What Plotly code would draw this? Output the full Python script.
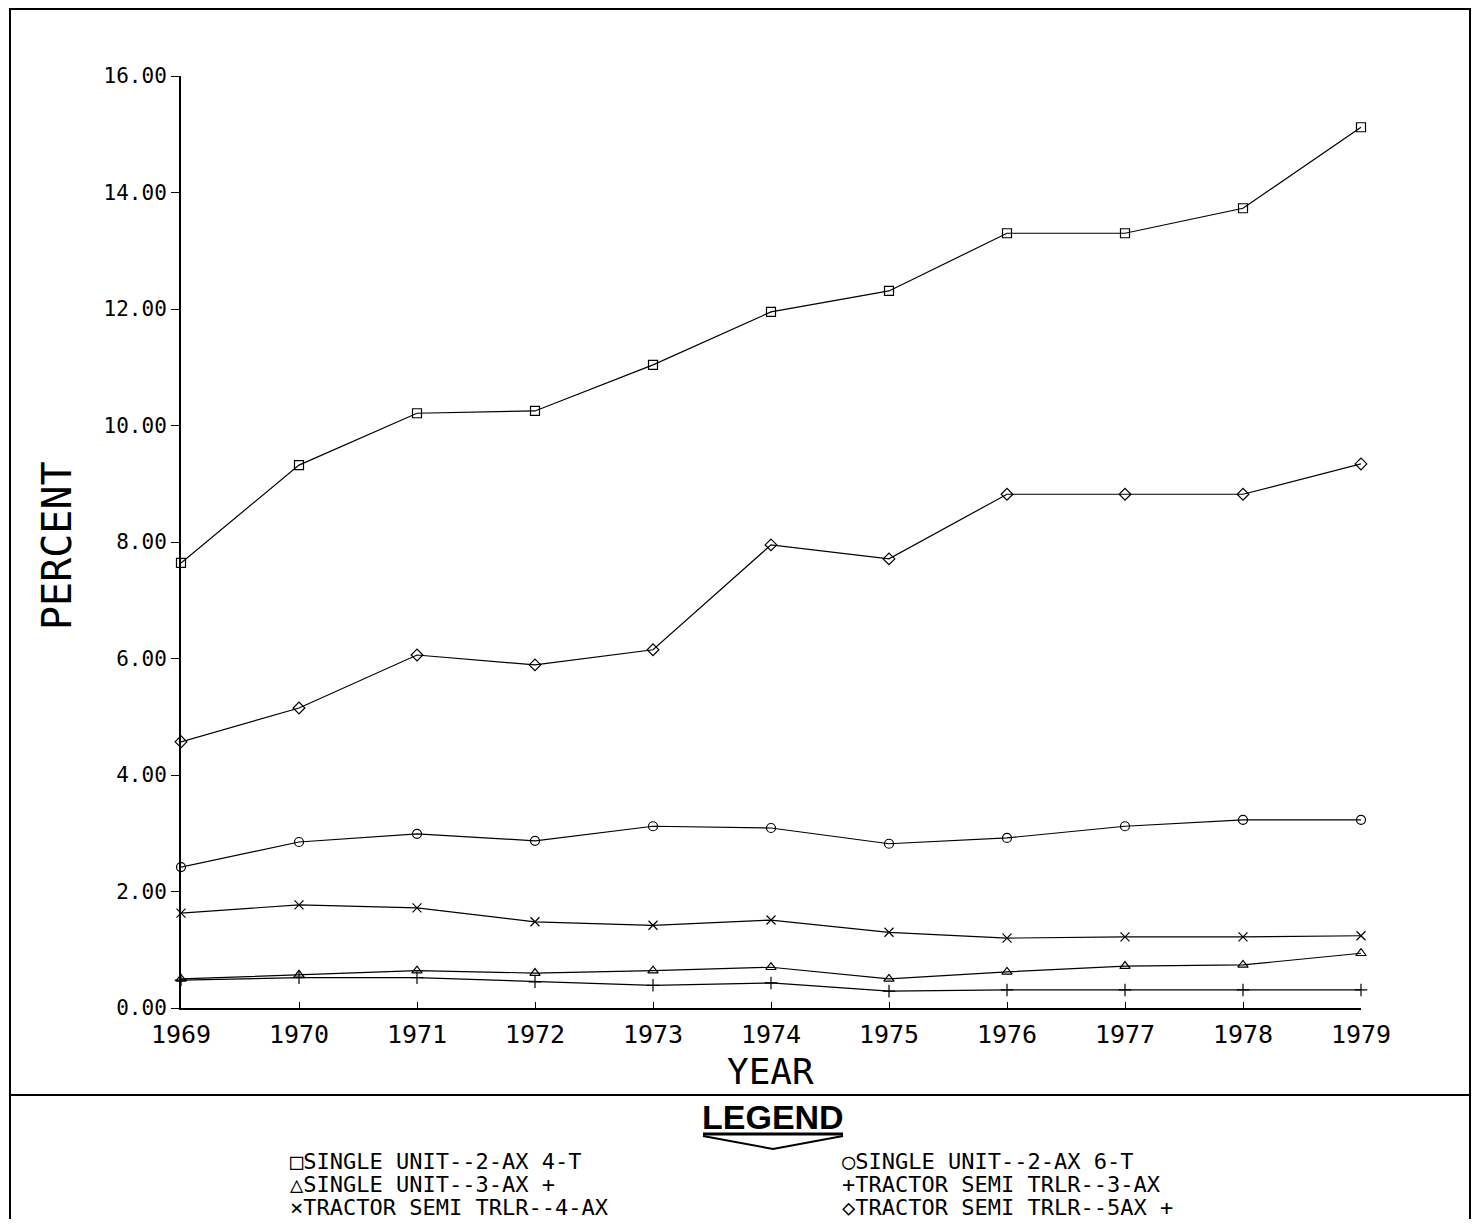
import plotly.graph_objects as go

years = [1969, 1970, 1971, 1972, 1973, 1974, 1975, 1976, 1977, 1978, 1979]
su_2ax_4t = [7.64, 9.32, 10.21, 10.25, 11.04, 11.95, 12.31, 13.30, 13.30, 13.73, 15.12]
su_2ax_6t = [2.42, 2.85, 2.99, 2.87, 3.12, 3.09, 2.82, 2.92, 3.12, 3.23, 3.23]
su_3ax = [0.50, 0.57, 0.64, 0.60, 0.64, 0.70, 0.50, 0.62, 0.72, 0.74, 0.94]
ts_3ax = [0.48, 0.52, 0.52, 0.45, 0.39, 0.43, 0.29, 0.31, 0.31, 0.31, 0.31]
ts_4ax = [1.63, 1.77, 1.72, 1.48, 1.42, 1.51, 1.30, 1.20, 1.22, 1.22, 1.24]
ts_5ax = [4.57, 5.15, 6.06, 5.89, 6.15, 7.95, 7.71, 8.82, 8.82, 8.82, 9.34]
y_ticks = [0, 2, 4, 6, 8, 10, 12, 14, 16]

series = [
    ("SINGLE UNIT--2-AX 4-T", su_2ax_4t, "square-open"),
    ("SINGLE UNIT--2-AX 6-T", su_2ax_6t, "circle-open"),
    ("SINGLE UNIT--3-AX +", su_3ax, "triangle-up-open"),
    ("TRACTOR SEMI TRLR--3-AX", ts_3ax, "cross-thin-open"),
    ("TRACTOR SEMI TRLR--4-AX", ts_4ax, "x-thin-open"),
    ("TRACTOR SEMI TRLR--5AX +", ts_5ax, "diamond-open"),
]

OFF = 8  # page body margin
W, H = 1480 - 2 * OFF, 1227 - 2 * OFF
L, R, T, B = 181, 1361, 76, 1008  # plot area in page pixels
FONT = "DejaVu Sans Mono"

def px(x):
    return (x - L) / (R - L)

def py(y):
    return (B - y) / (B - T)

fig = go.Figure()
for name, vals, sym in series:
    fig.add_trace(go.Scatter(
        x=years, y=vals, mode="lines+markers", name=name,
        line=dict(color="black", width=1.2),
        marker=dict(symbol=sym, size=9, color="black", line=dict(color="black", width=1.2)),
        showlegend=False, cliponaxis=False,
    ))

fig.update_layout(
    width=W, height=H,
    margin=dict(l=L - OFF, r=W - (R - OFF), t=T - OFF, b=H - (B - OFF)),
    paper_bgcolor="white", plot_bgcolor="white",
    font=dict(family=FONT, color="black"),
    xaxis=dict(
        range=[1969, 1979], tickmode="array", tickvals=years,
        ticktext=[str(y) for y in years],
        showgrid=False, zeroline=False, showline=True, linecolor="black", linewidth=2,
        ticks="inside", ticklen=6, tickcolor="black",
        tickfont=dict(family=FONT, size=25), ticklabelstandoff=3,
    ),
    yaxis=dict(
        range=[0, 16], tickmode="array", tickvals=y_ticks,
        ticktext=["%.2f" % v for v in y_ticks],
        showgrid=False, zeroline=False, showline=True, linecolor="black", linewidth=2,
        ticks="outside", ticklen=8, tickcolor="black",
        tickfont=dict(family=FONT, size=21),
    ),
)

shapes = []
shapes.append(dict(type="rect", xref="paper", yref="paper",
                   x0=px(10), x1=px(1470), y0=py(1240), y1=py(9),
                   line=dict(color="black", width=2)))
shapes.append(dict(type="line", xref="paper", yref="paper",
                   x0=px(10), x1=px(1470), y0=py(1095), y1=py(1095),
                   line=dict(color="black", width=2)))
shapes.append(dict(type="line", xref="paper", yref="paper",
                   x0=px(703), x1=px(843), y0=py(1134), y1=py(1134),
                   line=dict(color="black", width=3)))
shapes.append(dict(type="path", xref="paper", yref="paper",
                   path="M %f,%f L %f,%f L %f,%f" % (px(703), py(1136), px(773), py(1149), px(843), py(1136)),
                   line=dict(color="black", width=2)))
fig.update_layout(shapes=shapes)

def note(text, x, y, size, family=FONT, xanchor="center", angle=0):
    return dict(text=text, x=px(x), y=py(y), xref="paper", yref="paper",
                xanchor=xanchor, yanchor="middle", textangle=angle, showarrow=False,
                font=dict(family=family, size=size, color="black"))

ann = [
    note("PERCENT", 57, 546, 40, angle=-90),
    note("YEAR", 770, 1071, 36),
    note("<b>LEGEND</b>", 773, 1117, 34, family="Liberation Sans Narrow, Liberation Sans"),
]

legend_left = ["\u25a1" + series[0][0], "\u25b3" + series[2][0], "\u00d7" + series[4][0]]
legend_right = ["\u25cb" + series[1][0], "+" + series[3][0], "\u25c7" + series[5][0]]
rows = [1161, 1184, 1207]
for txt, yy in zip(legend_left, rows):
    ann.append(note(txt, 288, yy, 22, xanchor="left"))
for txt, yy in zip(legend_right, rows):
    ann.append(note(txt, 840, yy, 22, xanchor="left"))
fig.update_layout(annotations=ann)

fig.write_html("out.html")
